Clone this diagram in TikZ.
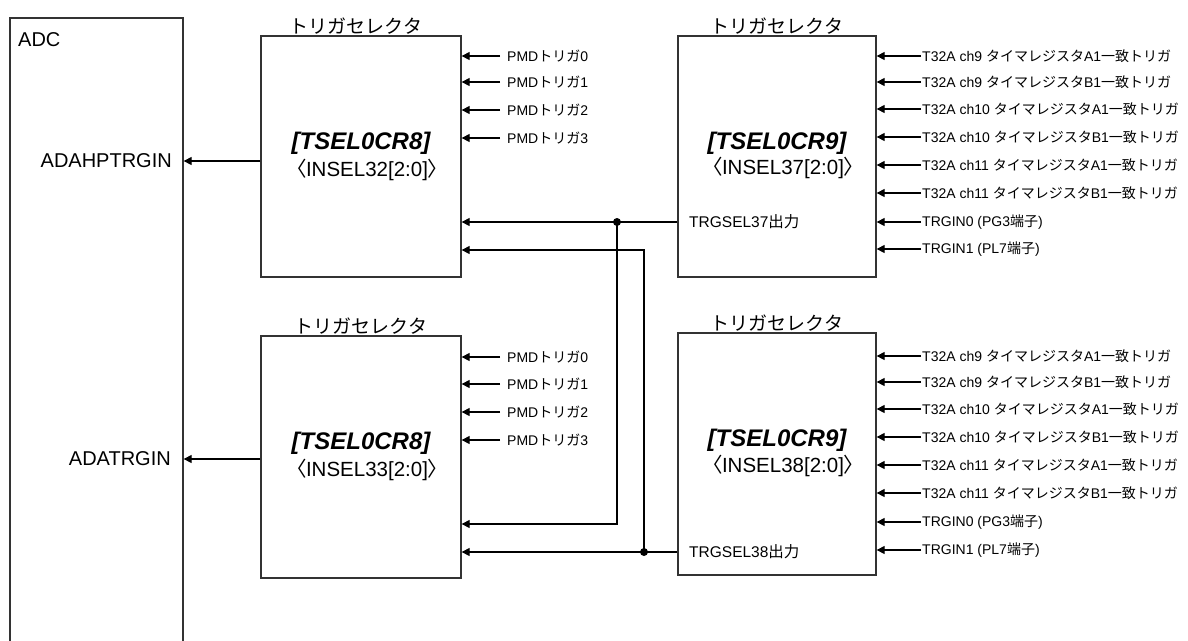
\documentclass[tikz,border=0pt]{standalone}
\usepackage{fontspec}
\setmainfont{Liberation Sans}
\newfontfamily\jpf{Noto Sans CJK JP}
\newfontfamily\jpp[RawFeature=+palt]{Noto Sans CJK JP}
\usetikzlibrary{arrows.meta}
\newcommand\tmatch[2]{T32A ch#1 {\jpf タイマレジスタ}#2{\jpf 一致トリガ}}
\tikzset{
  box/.style={draw=black!80, line width=1.3pt, rectangle, inner sep=0pt, fill=white},
  lbl/.style={inner sep=0pt, font=\fontsize{14}{16}\selectfont, anchor=west},
  bigl/.style={inner sep=0pt, font=\fontsize{20}{24}\selectfont},
  ttl/.style={font=\jpf\fontsize{19}{22}\selectfont, inner sep=1pt, anchor=south},
  reg/.style={font=\fontsize{24}{27}\selectfont\bfseries\itshape, inner sep=0pt},
  sel/.style={font=\fontsize{20.5}{23}\selectfont, inner sep=0pt},
  arr/.style={draw=black, line width=1.2pt, -{Triangle[length=8pt,width=8pt]}},
  dotc/.style={fill=black},
}
\begin{document}
\begin{tikzpicture}[x=1pt,y=-1pt]
\useasboundingbox[fill=white] (0,0) rectangle (1188,640);

% ADC block
\node[box, minimum width=173, minimum height=700] (adc) at (96.5,368) {};
\node[bigl, anchor=west] (adcl) at (18,40) {ADC};
\node[bigl, anchor=east] (ahp) at (172,161) {ADAHPTRGIN};
\node[bigl, anchor=east] (atr) at (171,459) {ADATRGIN};

% selector boxes
\node[box, minimum width=200, minimum height=241] (s1) at (361,156.5) {};
\node[box, minimum width=198, minimum height=241] (s2) at (777,156.5) {};
\node[box, minimum width=200, minimum height=242] (s3) at (361,457) {};
\node[box, minimum width=198, minimum height=242] (s4) at (777,454) {};

\node[ttl, xshift=-5] (t1) at (s1.north) {トリガセレクタ};
\node[ttl] (t2) at (s2.north) {トリガセレクタ};
\node[ttl] (t3) at (s3.north) {トリガセレクタ};
\node[ttl] (t4) at (s4.north) {トリガセレクタ};

\node[reg] (r1) at (361,143) {[TSEL0CR8]};
\node[sel] (n1) at (367,170) {{\jpp 〈}INSEL32[2:0]{\jpp 〉}};
\node[reg] (r2) at (777,143) {[TSEL0CR9]};
\node[sel] (n2) at (783,168) {{\jpp 〈}INSEL37[2:0]{\jpp 〉}};
\node[reg] (r3) at (361,443) {[TSEL0CR8]};
\node[sel] (n3) at (367,470) {{\jpp 〈}INSEL33[2:0]{\jpp 〉}};
\node[reg] (r4) at (777,440) {[TSEL0CR9]};
\node[sel] (n4) at (783,466) {{\jpp 〈}INSEL38[2:0]{\jpp 〉}};

% PMD inputs
\foreach \y [count=\i from 0] in {56,82,110,138} {
  \node[lbl] (pa\i) at (507,\y) {PMD{\jpf トリガ}\i};
  \draw[arr] ([xshift=-7]pa\i.west) -- (pa\i.west -| s1.east);
}
\foreach \y [count=\i from 0] in {357,384,412,440} {
  \node[lbl] (pb\i) at (507,\y) {PMD{\jpf トリガ}\i};
  \draw[arr] ([xshift=-7]pb\i.west) -- (pb\i.west -| s3.east);
}

% T32A inputs
\foreach \y/\t [count=\i] in {56/{\tmatch{9}{A1}},82/{\tmatch{9}{B1}},109/{\tmatch{10}{A1}},137/{\tmatch{10}{B1}},165/{\tmatch{11}{A1}},193/{\tmatch{11}{B1}},222/{TRGIN0 (PG3{\jpf 端子})},249/{TRGIN1 (PL7{\jpf 端子})}} {
  \node[lbl] (qa\i) at (922,\y) {\t};
  \draw[arr] ([xshift=-1]qa\i.west) -- (qa\i.west -| s2.east);
}
\foreach \y/\t [count=\i] in {356/{\tmatch{9}{A1}},382/{\tmatch{9}{B1}},409/{\tmatch{10}{A1}},437/{\tmatch{10}{B1}},465/{\tmatch{11}{A1}},493/{\tmatch{11}{B1}},522/{TRGIN0 (PG3{\jpf 端子})},550/{TRGIN1 (PL7{\jpf 端子})}} {
  \node[lbl] (qb\i) at (922,\y) {\t};
  \draw[arr] ([xshift=-1]qb\i.west) -- (qb\i.west -| s4.east);
}

% outputs
\node[lbl, font=\fontsize{15.5}{17}\selectfont] (o37) at (689,222) {TRGSEL37{\jpf 出力}};
\node[lbl, font=\fontsize{15.5}{17}\selectfont] (o38) at (689,552) {TRGSEL38{\jpf 出力}};

\coordinate (d1) at (617,222);
\coordinate (d2) at (644,552);
\draw[arr] (o37 -| s2.west) -- (o37 -| s1.east);
\draw[arr] (d1) |- (s3.east |- 0,524);
\draw[arr] (o38 -| s4.west) -- (o38 -| s3.east);
\draw[arr] (d2) |- (s1.east |- 0,250);
\fill[dotc] (d1) circle (4);
\fill[dotc] (d2) circle (4);

% to ADC
\draw[arr] (ahp -| s1.west) -- (ahp -| adc.east);
\draw[arr] (atr -| s3.west) -- (atr -| adc.east);
\end{tikzpicture}
\end{document}
